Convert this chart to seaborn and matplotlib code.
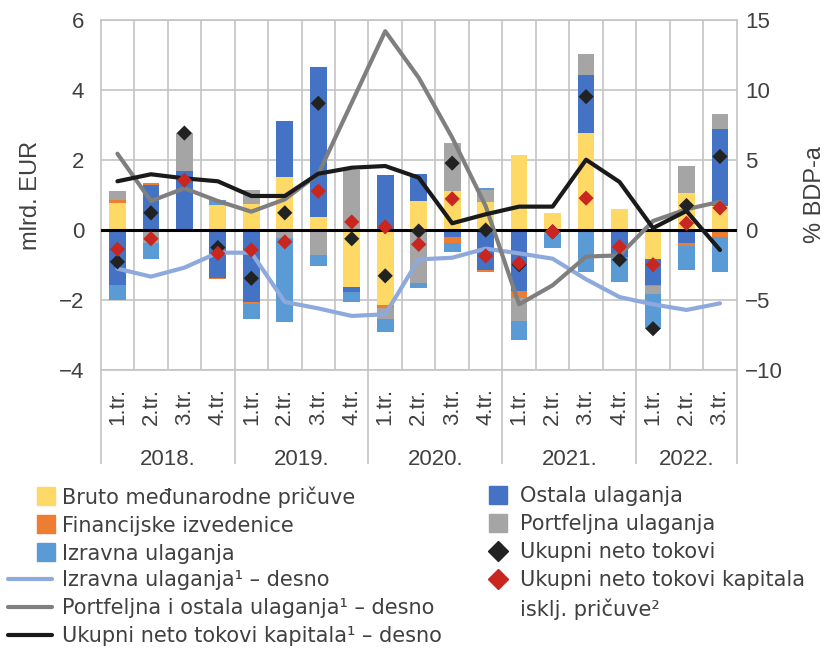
import matplotlib
matplotlib.use("Agg")
import matplotlib.pyplot as plt
import matplotlib.transforms as mtransforms
from matplotlib.lines import Line2D
import numpy as np
import seaborn as sns

# categories
quarters = ['1.tr.', '2.tr.', '3.tr.', '4.tr.'] * 4 + ['1.tr.', '2.tr.', '3.tr.']
years = ['2018.', '2019.', '2020.', '2021.', '2022.']
year_len = [4, 4, 4, 4, 3]

# stacked components, mlrd. EUR (left axis)
bruto = [0.78, 0.0, 0.0, 0.71, 0.73, 1.52, 0.36, -1.64, -2.14, 0.82,
         1.11, 0.80, 2.14, 0.49, 2.77, 0.61, -0.82, 1.06, 0.70]
ostala = [-1.57, 1.29, 1.70, -1.38, -2.06, 1.59, 4.30, -0.14, 1.56, 0.79,
          -0.19, -1.15, -1.73, 0.0, 1.65, -0.76, -0.75, -0.36, 2.18]
financ = [0.085, 0.04, 0.0, -0.03, -0.05, 0.0, -0.03, 0.0, -0.09, 0.0,
          -0.19, -0.05, -0.22, 0.0, 0.0, 0.0, -0.04, -0.09, -0.19]
portf = [0.24, -0.36, 1.07, 0.0, 0.42, -0.24, -0.69, 1.72, -0.31, -1.52,
         1.39, 0.34, -0.64, -0.12, 0.61, 0.0, -0.23, 0.78, 0.44]
izravna = [-0.43, -0.46, 0.0, 0.14, -0.43, -2.38, -0.30, -0.28, -0.36, -0.15,
           -0.24, 0.06, -0.56, -0.38, -1.19, -0.72, -0.98, -0.68, -1.02]

# diamonds, mlrd. EUR (left axis)
ukupni = [-0.91, 0.49, 2.77, -0.50, -1.38, 0.49, 3.62, -0.25, -1.31, -0.03,
          1.91, 0.0, -0.99, -0.05, 3.81, -0.85, -2.82, 0.70, 2.10]
ukupni_excl = [-0.55, -0.25, 1.42, -0.67, -0.57, -0.34, 1.11, 0.23, 0.09, -0.41,
               0.89, -0.74, -0.95, -0.05, 0.91, -0.48, -0.99, 0.19, 0.63]

# lines, % BDP-a (right axis)
izravna_line = [-2.76, -3.33, -2.69, -1.62, -1.62, -5.14, -5.6, -6.14, -6.02, -2.10,
                -1.98, -1.33, -1.67, -2.05, -3.52, -4.79, -5.31, -5.71, -5.24]
portf_ost_line = [5.45, 2.07, 2.98, 2.07, 1.31, 2.19, 4.0, 9.1, 14.2, 10.88,
                  6.6, 1.71, -5.31, -3.95, -1.90, -1.81, 0.64, 1.48, 2.02]
ukupni_line = [3.48, 3.98, 3.69, 3.48, 2.43, 2.43, 4.02, 4.45, 4.57, 3.74,
               0.48, 1.12, 1.67, 1.67, 5.02, 3.43, 0.14, 1.36, -1.43]

c_yellow = '#FFD966'
c_dblue = '#4472C4'
c_orange = '#ED7D31'
c_grey = '#A5A5A5'
c_lblue = '#5B9BD5'
c_line_lblue = '#8EA9DB'
c_line_grey = '#7F7F7F'
c_line_black = '#1A1A1A'
c_red = '#C8261E'
c_black = '#222222'
txt = '#404040'
gridc = '#C4C4C4'

sns.set_theme(style='white')
plt.rcParams['font.family'] = ['Liberation Sans', 'DejaVu Sans']
plt.rcParams['text.color'] = txt
plt.rcParams['axes.labelcolor'] = txt
plt.rcParams['xtick.color'] = txt
plt.rcParams['ytick.color'] = txt

fig = plt.figure(figsize=(8.4, 6.6), dpi=100)
ax = fig.add_axes([100.7 / 840, 1 - 370 / 660, 636 / 840, 350 / 660])

x = np.arange(len(quarters))
series = [(bruto, c_yellow), (ostala, c_dblue), (financ, c_orange),
          (portf, c_grey), (izravna, c_lblue)]
pos_base = np.zeros(len(x))
neg_base = np.zeros(len(x))
for vals, col in series:
    v = np.array(vals)
    bottom = np.where(v >= 0, pos_base, neg_base)
    ax.bar(x, v, bottom=bottom, width=0.5, color=col, linewidth=0, zorder=2)
    pos_base = pos_base + np.where(v > 0, v, 0)
    neg_base = neg_base + np.where(v < 0, v, 0)

ax.set_xlim(-0.5, len(x) - 0.5)
ax.set_ylim(-4, 6)
ax.set_yticks([-4, -2, 0, 2, 4, 6])
ax.yaxis.grid(True, color=gridc, linewidth=1.2)
for b in np.arange(0.5, len(x) - 0.5, 1):
    ax.axvline(b, color=gridc, linewidth=1.2, zorder=0.5)
ax.axhline(0, color='black', linewidth=2.2, zorder=3)
for s in ax.spines.values():
    s.set_color(gridc)
    s.set_linewidth(1.2)

ax.set_xticks(x)
ax.set_xticklabels(quarters, rotation=90, fontsize=16)
ax.tick_params(axis='x', which='major', length=0, pad=13)
ax.tick_params(axis='y', length=0, pad=12, labelsize=16)
bounds = [-0.5]
for n in year_len:
    bounds.append(bounds[-1] + n)
ax.set_xticks(bounds, minor=True)
ax.tick_params(axis='x', which='minor', bottom=True, length=68, width=1.2,
               color=gridc, direction='out')
trans = mtransforms.blended_transform_factory(ax.transData, ax.transAxes)
for i, y in enumerate(years):
    xc = (bounds[i] + bounds[i + 1]) / 2
    ax.text(xc, -0.255, y, transform=trans, ha='center', va='center', fontsize=16, color=txt)
ax.set_ylabel('mlrd. EUR', fontsize=17, labelpad=12)

# right axis lines
ax2 = ax.twinx()
ax2.set_ylim(-10, 15)
ax2.set_yticks([-10, -5, 0, 5, 10, 15])
sns.lineplot(x=x, y=izravna_line, ax=ax2, color=c_line_lblue, linewidth=3)
sns.lineplot(x=x, y=portf_ost_line, ax=ax2, color=c_line_grey, linewidth=3)
sns.lineplot(x=x, y=ukupni_line, ax=ax2, color=c_line_black, linewidth=3)
ax2.tick_params(axis='y', length=0, pad=6, labelsize=16)
ax2.set_ylabel('% BDP-a', fontsize=17, labelpad=15)
for s in ax2.spines.values():
    s.set_visible(False)
ax2.set_xlim(-0.5, len(x) - 0.5)

# diamonds on top, left scale
ax3 = ax.twinx()
ax3.set_ylim(-4, 6)
sns.scatterplot(x=x, y=ukupni, ax=ax3, marker='D', s=60, color=c_black, edgecolor='none')
sns.scatterplot(x=x, y=ukupni_excl, ax=ax3, marker='D', s=60, color=c_red, edgecolor='none')
ax3.set_yticks([])
ax3.set_ylabel('')
for s in ax3.spines.values():
    s.set_visible(False)
ax3.set_xlim(-0.5, len(x) - 0.5)

# legend: three blocks
fs_px = 15 * 100 / 72
leg_font = {'family': 'DejaVu Sans', 'size': 15}
common = dict(frameon=False, labelspacing=0.39, borderpad=0, borderaxespad=0,
              labelcolor=txt, prop=leg_font)
sq = dict(marker='s', linestyle='none', markersize=12.5)

h_sq1 = [Line2D([], [], color=c_yellow, **sq),
         Line2D([], [], color=c_orange, **sq),
         Line2D([], [], color=c_lblue, **sq)]
l_sq1 = ['Bruto međunarodne pričuve', 'Financijske izvedenice', 'Izravna ulaganja']
h_ln = [Line2D([], [], color=c_line_lblue, linewidth=3),
        Line2D([], [], color=c_line_grey, linewidth=3),
        Line2D([], [], color=c_line_black, linewidth=3)]
l_ln = ['Izravna ulaganja¹ – desno', 'Portfeljna i ostala ulaganja¹ – desno',
        'Ukupni neto tokovi kapitala¹ – desno']
h2 = [Line2D([], [], color=c_dblue, **sq),
      Line2D([], [], color=c_grey, **sq),
      Line2D([], [], color=c_black, marker='D', linestyle='none', markersize=10),
      Line2D([], [], color=c_red, marker='D', linestyle='none', markersize=10)]
l2 = ['Ostala ulaganja', 'Portfeljna ulaganja', 'Ukupni neto tokovi',
      'Ukupni neto tokovi kapitala']

leg_a = fig.legend(h_sq1, l_sq1, loc='upper left', handlelength=1.0,
                   handletextpad=(62 - 36 - fs_px) / fs_px,
                   bbox_to_anchor=(36 / 840, 1 - 486 / 660), **common)
leg_b = fig.legend(h_ln, l_ln, loc='upper left', handlelength=44 / fs_px,
                   handletextpad=10 / fs_px,
                   bbox_to_anchor=(8 / 840, 1 - 570 / 660), **common)
leg_c = fig.legend(h2, l2, loc='upper left', handlelength=1.0,
                   handletextpad=(520 - 488 - fs_px) / fs_px,
                   bbox_to_anchor=(488 / 840, 1 - 486 / 660), **common)
fig.text(520 / 840, 1 - 609 / 660, 'isklj. pričuve²', fontdict=leg_font,
         color=txt, ha='left', va='center')

fig.savefig('out.png', dpi=100)
